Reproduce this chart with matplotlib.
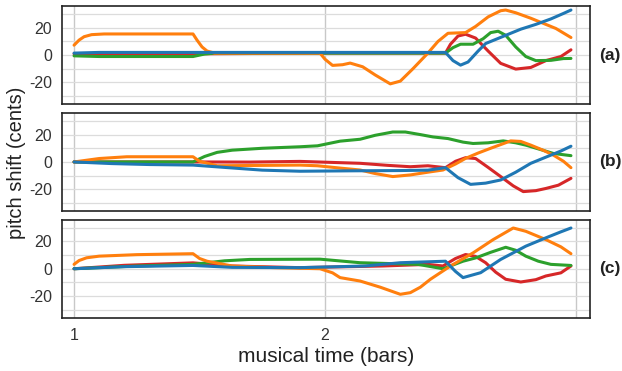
import matplotlib
matplotlib.use("Agg")
import matplotlib.pyplot as plt
from matplotlib.ticker import MultipleLocator

plt.rcParams["font.family"] = ["Liberation Sans", "DejaVu Sans"]
plt.rcParams["axes.unicode_minus"] = False

COLORS = {"red": "tab:red", "green": "tab:green",
          "orange": "tab:orange", "blue": "tab:blue"}
DRAW_ORDER = ["red", "green", "orange", "blue"]

# ---- panel (a) ----
a_orange_x = [1.0, 1.02, 1.04, 1.07, 1.12, 1.30, 1.474, 1.49, 1.51, 1.53, 1.56, 1.70, 1.98,
              2.00, 2.03, 2.07, 2.10, 2.15, 2.20, 2.26, 2.30, 2.35, 2.41, 2.45, 2.49, 2.56,
              2.60, 2.65, 2.70, 2.72, 2.76, 2.82, 2.86, 2.92, 2.98]
a_orange_y = [7.3, 11.0, 13.5, 15.0, 15.5, 15.5, 15.5, 11.0, 6.0, 3.0, 1.5, 1.5, 1.5,
              -3.0, -7.5, -7.0, -5.8, -8.5, -14.5, -21.0, -19.0, -10.0, 1.5, 10.0, 16.0, 16.5,
              21.0, 28.0, 32.5, 33.0, 31.0, 27.0, 24.0, 19.5, 12.9]
a_blue_x = [1.0, 1.10, 1.474, 2.0, 2.48, 2.51, 2.54, 2.57, 2.61, 2.64, 2.68, 2.72, 2.78,
            2.84, 2.90, 2.95, 2.98]
a_blue_y = [1.5, 2.0, 2.0, 2.0, 2.0, -4.0, -7.3, -5.0, 3.0, 8.5, 11.5, 14.5, 19.0,
            22.5, 26.5, 30.5, 33.0]
a_green_x = [1.0, 1.10, 1.474, 1.52, 1.56, 2.0, 2.48, 2.51, 2.54, 2.59, 2.63, 2.66, 2.69,
             2.72, 2.76, 2.80, 2.84, 2.90, 2.95, 2.98]
a_green_y = [-0.5, -1.0, -1.0, 0.8, 1.5, 1.5, 1.5, 5.5, 8.0, 8.0, 12.0, 16.5, 17.5,
             14.5, 6.0, -1.0, -4.0, -3.8, -2.5, -2.4]
a_red_x = [1.0, 1.474, 2.0, 2.48, 2.50, 2.53, 2.56, 2.60, 2.65, 2.70, 2.76, 2.82, 2.88,
           2.94, 2.98]
a_red_y = [1.0, 1.0, 1.5, 1.5, 8.0, 14.0, 15.3, 12.5, 3.0, -6.0, -10.2, -9.0, -4.0,
           -1.0, 3.9]

# ---- panel (b) ----
b_orange_x = [1.0, 1.10, 1.21, 1.474, 1.50, 1.57, 1.90, 1.97, 2.06, 2.14, 2.20, 2.27, 2.34,
              2.41, 2.47, 2.52, 2.56, 2.61, 2.66, 2.74, 2.78, 2.82, 2.87, 2.91, 2.95, 2.98]
b_orange_y = [0.0, 2.5, 3.8, 3.8, 0.5, -2.8, -2.3, -2.8, -4.5, -5.9, -8.5, -10.7, -9.5,
              -7.5, -5.9, -1.5, 2.6, 6.5, 10.0, 15.4, 15.0, 12.3, 8.5, 5.0, 0.5, -4.2]
b_blue_x = [1.0, 1.15, 1.30, 1.474, 1.60, 1.75, 1.90, 2.10, 2.30, 2.41, 2.48, 2.53, 2.58,
            2.64, 2.70, 2.76, 2.82, 2.90, 2.94, 2.98]
b_blue_y = [0.0, -1.2, -1.9, -2.3, -4.0, -6.0, -6.8, -6.5, -6.3, -6.0, -4.2, -11.5, -16.4,
            -15.5, -13.2, -7.5, -1.0, 5.0, 8.0, 11.5]
b_green_x = [1.0, 1.474, 1.52, 1.57, 1.63, 1.75, 1.90, 1.97, 2.06, 2.14, 2.20, 2.27, 2.32,
             2.38, 2.43, 2.49, 2.55, 2.59, 2.65, 2.71, 2.76, 2.80, 2.86, 2.91, 2.98]
b_green_y = [0.0, 0.0, 4.0, 7.0, 8.6, 10.0, 11.1, 11.8, 15.2, 16.6, 19.5, 21.9, 21.9,
             20.0, 18.3, 17.1, 14.5, 13.5, 14.0, 15.4, 14.0, 12.3, 9.0, 6.2, 4.6]
b_red_x = [1.0, 1.474, 1.70, 1.90, 2.14, 2.25, 2.34, 2.41, 2.48, 2.52, 2.56, 2.60, 2.65,
           2.70, 2.75, 2.79, 2.84, 2.88, 2.93, 2.98]
b_red_y = [0.0, 0.0, -0.1, 0.4, -1.0, -2.5, -3.5, -2.8, -4.2, 0.5, 3.1, 2.5, -4.0,
           -10.7, -17.5, -21.7, -21.0, -19.4, -17.0, -12.0]

# ---- panel (c) ----
c_orange_x = [1.0, 1.02, 1.05, 1.10, 1.25, 1.474, 1.50, 1.53, 1.63, 1.80, 1.98, 2.03,
              2.06, 2.14, 2.22, 2.30, 2.34, 2.38, 2.42, 2.50, 2.59, 2.67, 2.75, 2.80,
              2.88, 2.94, 2.98]
c_orange_y = [3.2, 6.0, 8.0, 9.2, 10.3, 11.0, 7.5, 5.5, 2.0, 0.8, 0.0, -3.0,
              -6.5, -9.0, -13.5, -18.7, -17.5, -13.5, -7.7, 2.0, 11.6, 21.3, 29.8, 27.4,
              21.3, 16.0, 11.0]
c_blue_x = [1.0, 1.20, 1.474, 1.63, 1.90, 2.16, 2.30, 2.48, 2.52, 2.55, 2.62, 2.70, 2.80,
            2.88, 2.94, 2.98]
c_blue_y = [0.0, 1.5, 2.4, 1.0, 0.8, 2.0, 4.4, 5.5, -2.0, -6.5, -2.9, 6.8, 16.5,
            22.6, 27.0, 29.8]
c_green_x = [1.0, 1.10, 1.24, 1.474, 1.60, 1.70, 1.98, 2.14, 2.37, 2.47, 2.55, 2.60, 2.66,
             2.72, 2.76, 2.80, 2.85, 2.90, 2.98]
c_green_y = [0.0, 0.8, 1.9, 3.2, 5.8, 6.8, 7.0, 4.4, 3.2, 0.0, 5.5, 7.9, 12.0,
             15.7, 13.5, 9.2, 5.5, 3.2, 2.4]
c_red_x = [1.0, 1.20, 1.474, 1.63, 1.90, 2.23, 2.41, 2.47, 2.52, 2.56, 2.60, 2.64, 2.68,
           2.72, 2.78, 2.84, 2.88, 2.94, 2.98]
c_red_y = [0.0, 2.5, 4.3, 2.0, 0.8, 2.0, 3.2, 2.0, 7.5, 10.4, 9.0, 4.4, -2.5,
           -7.7, -9.7, -8.0, -5.3, -3.0, 2.0]

panels = [
    ("(a)", {"red": (a_red_x, a_red_y), "green": (a_green_x, a_green_y),
             "orange": (a_orange_x, a_orange_y), "blue": (a_blue_x, a_blue_y)}),
    ("(b)", {"red": (b_red_x, b_red_y), "green": (b_green_x, b_green_y),
             "orange": (b_orange_x, b_orange_y), "blue": (b_blue_x, b_blue_y)}),
    ("(c)", {"red": (c_red_x, c_red_y), "green": (c_green_x, c_green_y),
             "orange": (c_orange_x, c_orange_y), "blue": (c_blue_x, c_blue_y)}),
]

fig, axes = plt.subplots(3, 1, figsize=(6.22, 3.71), dpi=100, sharex=True)
fig.subplots_adjust(left=0.0997, right=0.9486, top=0.984, bottom=0.143, hspace=0.085)

for ax, (tag, series) in zip(axes, panels):
    for name in DRAW_ORDER:
        xs, ys = series[name]
        ax.plot(xs, ys, color=COLORS[name], lw=2.2, solid_capstyle="round")
    ax.set_ylim(-36, 36)
    ax.set_xlim(0.952, 3.056)
    ax.set_yticks([-20, 0, 20])
    ax.yaxis.set_minor_locator(MultipleLocator(10))
    ax.set_xticks([1, 2, 3])
    ax.set_xticklabels(["1", "2", ""])
    ax.grid(True, which="both", color="#dcdcdc", lw=0.9)
    ax.grid(True, axis="x", which="major", color="#c8c8c8", lw=1.0)
    ax.set_axisbelow(True)
    ax.tick_params(which="both", length=0, labelsize=11.5, colors="#333333", pad=7)
    for sp in ax.spines.values():
        sp.set_color("#222222")
        sp.set_linewidth(1.2)
    ax.text(1.038, 0.5, tag, transform=ax.transAxes, fontsize=12.5,
            fontweight="bold", va="center", ha="center", color="#222222")

fig.supylabel("pitch shift (cents)", x=0.012, y=0.56, fontsize=14.5, color="#222222")
axes[-1].set_xlabel("musical time (bars)", fontsize=15, color="#222222", labelpad=3)

fig.savefig("out.png", dpi=100)
